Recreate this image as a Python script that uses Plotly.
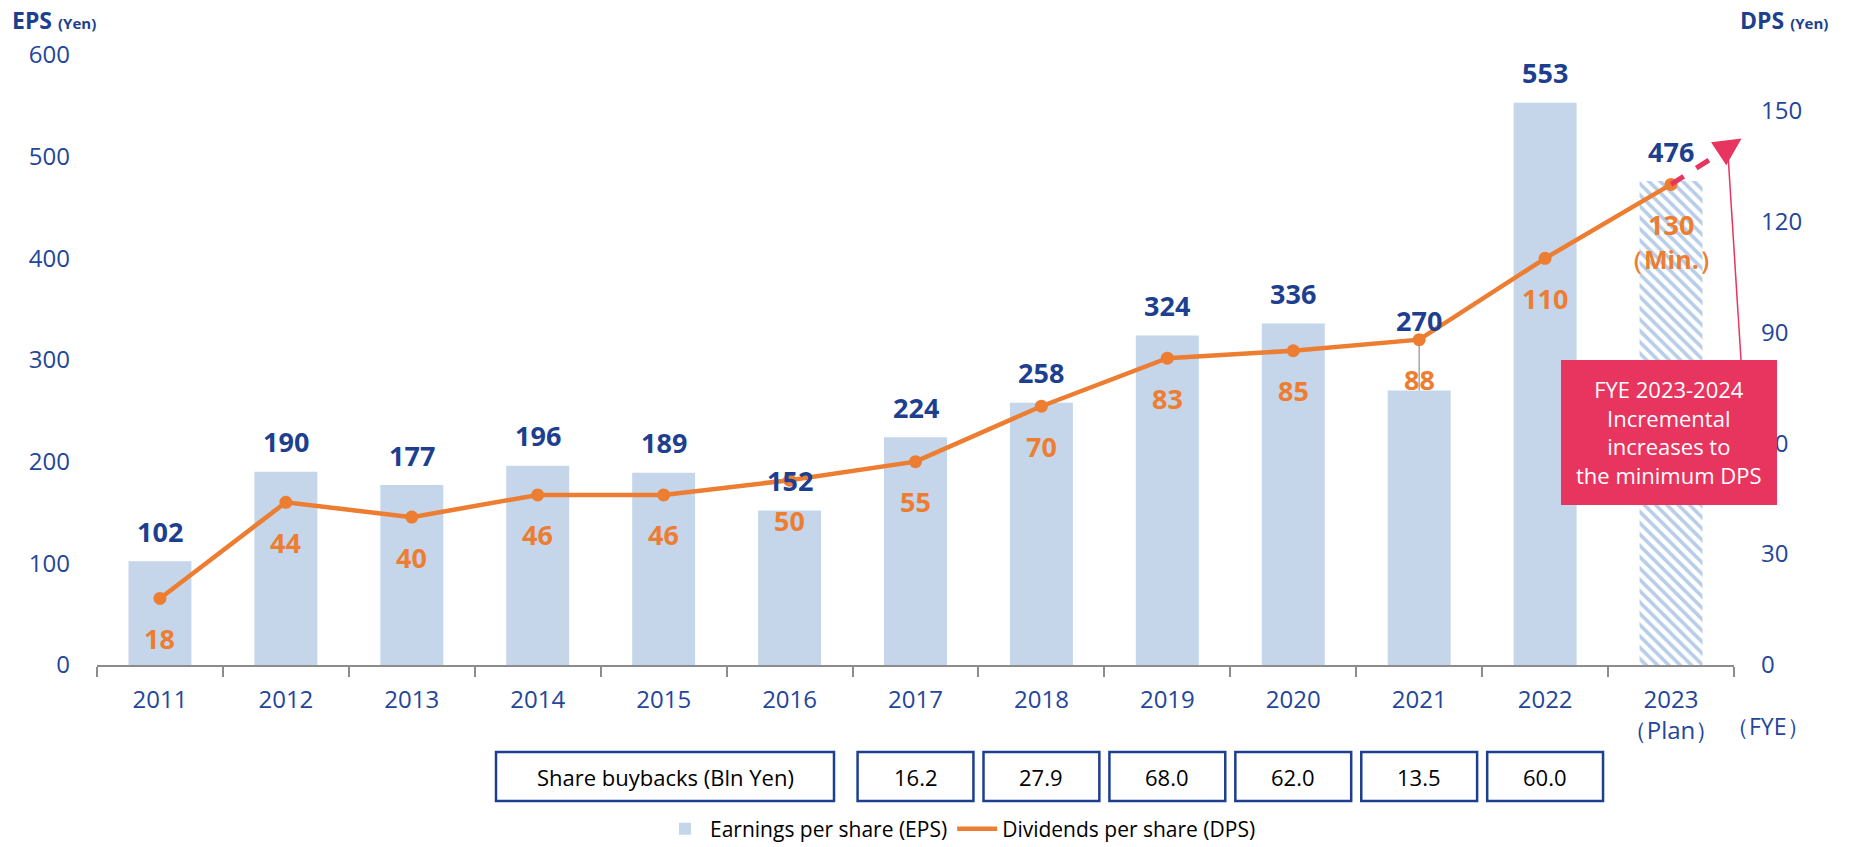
import plotly.graph_objects as go

# ---------------- data ----------------
years = ["2011", "2012", "2013", "2014", "2015", "2016", "2017", "2018",
         "2019", "2020", "2021", "2022", "2023<br>（Plan）"]
eps = [102, 190, 177, 196, 189, 152, 224, 258, 324, 336, 270, 553, 476]
dps = [18, 44, 40, 46, 46, 50, 55, 70, 83, 85, 88, 110, 130]
buyback_years = ["2017", "2018", "2019", "2020", "2021", "2022"]
buybacks = [16.2, 27.9, 68.0, 62.0, 13.5, 60.0]
eps_ticks = [0, 100, 200, 300, 400, 500, 600]
dps_ticks = [0, 30, 60, 90, 120, 150]

# ---------------- style ----------------
FONT = "Open Sans"
TICK_BLUE = "#23469A"
NAVY = "#1E3F8F"
ORANGE = "#ED7D31"
BAR_BLUE = "#C5D5EA"
HATCH_BLUE = "#B7CDE8"
PINK = "#E8355F"
AXIS_GRAY = "#8C8C8C"

W, H = 1852, 847
ML, MR, MT, MB = 97, 118, 55, 182
PW, PH = W - ML - MR, H - MT - MB
N = len(years)
EPS_MAX, DPS_MAX = 600, 165


def xp(idx):
    """category index -> paper x"""
    return (idx + 0.5) / N


def y2p(v):
    return v / DPS_MAX


def pxx(px):
    return (px - ML) / PW


def pxy(py):
    return (MT + PH - py) / PH


def note(**kw):
    base = dict(showarrow=False, xanchor="center", yanchor="middle")
    base.update(kw)
    return base


fig = go.Figure()

plan_idx = N - 1
bar_colors = [BAR_BLUE] * (N - 1) + [HATCH_BLUE]
patterns = [""] * (N - 1) + ["\\"]

fig.add_trace(go.Bar(
    x=years, y=eps, name="Earnings per share (EPS)",
    marker=dict(color=bar_colors, line=dict(width=0),
                pattern=dict(shape=patterns, size=8, solidity=0.45,
                             fillmode="replace")),
    yaxis="y", hoverinfo="skip",
))

fig.add_trace(go.Scatter(
    x=years, y=dps, name="Dividends per share (DPS)", yaxis="y2",
    mode="lines+markers", showlegend=False,
    line=dict(color=ORANGE, width=4.5),
    marker=dict(color=ORANGE, size=13),
    hoverinfo="skip",
))
# legend-only entry (line symbol without marker)
fig.add_trace(go.Scatter(
    x=[None], y=[None], name="Dividends per share (DPS)", yaxis="y2",
    mode="lines", line=dict(color=ORANGE, width=4.5), hoverinfo="skip",
))

annotations = []
shapes = []

# EPS labels
for i, v in enumerate(eps):
    shift = 70 if years[i] == "2021" else 30
    annotations.append(note(
        x=i, y=v, xref="x", yref="y", text=f"<b>{v}</b>",
        yshift=shift, font=dict(family=FONT, size=27, color=NAVY)))

# DPS labels
for i, v in enumerate(dps):
    annotations.append(note(
        x=i, y=v, xref="x", yref="y2", text=f"<b>{v}</b>",
        yshift=-40, font=dict(family=FONT, size=27, color=ORANGE)))
annotations.append(note(
    x=plan_idx, y=dps[plan_idx], xref="x", yref="y2", text="<b>（Min.）</b>",
    yshift=-75, font=dict(family=FONT, size=25, color=ORANGE)))

# leader line for 2021 EPS label
i21 = years.index("2021")
shapes.append(dict(type="line", xref="x", yref="y2", x0=i21, x1=i21,
                   y0=eps[i21] * DPS_MAX / EPS_MAX, y1=dps[i21],
                   line=dict(color="#A6A6A6", width=1.5), layer="below"))

# dashed arrow from 2023 DPS point
tip_x, tip_y = 12.56, 142.4
shapes.append(dict(type="line", xref="paper", yref="paper",
                   x0=xp(plan_idx), y0=y2p(dps[plan_idx]),
                   x1=xp(12.43), y1=y2p(139.4),
                   line=dict(color=PINK, width=5, dash="dash")))
annotations.append(dict(x=xp(tip_x), y=y2p(tip_y), xref="paper", yref="paper",
                        ax=-18, ay=12, axref="pixel", ayref="pixel",
                        showarrow=True, arrowhead=2, arrowsize=1.1, arrowwidth=5,
                        arrowcolor=PINK, text=""))

# callout box with pointer
shapes.append(dict(type="line", xref="paper", yref="paper",
                   x0=xp(12.45), y0=y2p(139.5), x1=pxx(1741), y1=pxy(360),
                   line=dict(color=PINK, width=1.5)))
shapes.append(dict(type="rect", xref="paper", yref="paper",
                   x0=pxx(1561), x1=pxx(1777), y0=pxy(505), y1=pxy(360),
                   fillcolor=PINK, line=dict(width=0), layer="above"))
annotations.append(note(
    x=pxx(1669), y=pxy(432), xref="paper", yref="paper",
    text="FYE 2023-2024<br>Incremental<br>increases to<br>the minimum DPS",
    font=dict(family=FONT, size=22, color="white"), align="center"))

# axis titles
annotations.append(note(
    x=pxx(10), y=pxy(20), xref="paper", yref="paper", xanchor="left",
    text="<b>EPS</b> <b><span style='font-size:15px'>(Yen)</span></b>",
    font=dict(family=FONT, size=23, color=NAVY)))
annotations.append(note(
    x=pxx(1830), y=pxy(20), xref="paper", yref="paper", xanchor="right",
    text="<b>DPS</b> <b><span style='font-size:15px'>(Yen)</span></b>",
    font=dict(family=FONT, size=23, color=NAVY)))
annotations.append(note(
    x=pxx(1768), y=pxy(726), xref="paper", yref="paper",
    text="（FYE）", font=dict(family=FONT, size=23, color=TICK_BLUE)))

# share buyback table
BOX_TOP, BOX_BOT = 752, 801
shapes.append(dict(type="rect", xref="paper", yref="paper",
                   x0=pxx(496), x1=pxx(834), y0=pxy(BOX_BOT), y1=pxy(BOX_TOP),
                   line=dict(color=NAVY, width=2.5), fillcolor="white"))
annotations.append(note(x=pxx(665), y=pxy((BOX_TOP + BOX_BOT) / 2), xref="paper",
                        yref="paper", text="Share buybacks (Bln Yen)",
                        font=dict(family=FONT, size=22, color="black")))
for yr, v in zip(buyback_years, buybacks):
    i = years.index(yr)
    shapes.append(dict(type="rect", xref="paper", yref="paper",
                       x0=xp(i - 0.46), x1=xp(i + 0.46),
                       y0=pxy(BOX_BOT), y1=pxy(BOX_TOP),
                       line=dict(color=NAVY, width=2.5), fillcolor="white"))
    annotations.append(note(x=xp(i), y=pxy((BOX_TOP + BOX_BOT) / 2), xref="paper",
                            yref="paper", text=f"{v:.1f}",
                            font=dict(family=FONT, size=22, color="black")))

fig.update_layout(
    width=W, height=H, autosize=False,
    margin=dict(l=ML, r=MR, t=MT, b=MB, pad=0, autoexpand=False),
    paper_bgcolor="white", plot_bgcolor="white",
    font=dict(family=FONT, color=TICK_BLUE),
    bargap=0.5,
    showlegend=True,
    legend=dict(orientation="h", x=0.5275, xanchor="center", y=pxy(829),
                yanchor="middle", font=dict(family=FONT, size=21, color="black"),
                bgcolor="rgba(0,0,0,0)", itemwidth=40, tracegroupgap=0),
    xaxis=dict(type="category", range=[-0.5, N - 0.5], showgrid=False,
               showline=True, linecolor=AXIS_GRAY, linewidth=2,
               ticks="outside", tickson="boundaries", ticklen=10,
               tickcolor=AXIS_GRAY, tickwidth=2, ticklabelstandoff=12,
               tickfont=dict(family=FONT, size=24, color=TICK_BLUE),
               zeroline=False),
    yaxis=dict(range=[0, EPS_MAX], tickvals=eps_ticks, showgrid=False,
               showline=False, zeroline=False, ticks="",
               ticklabelstandoff=26,
               tickfont=dict(family=FONT, size=24, color=TICK_BLUE)),
    yaxis2=dict(range=[0, DPS_MAX], tickvals=dps_ticks, overlaying="y",
                side="right", showgrid=False, showline=False, zeroline=False,
                ticks="", ticklabelstandoff=26,
                tickfont=dict(family=FONT, size=24, color=TICK_BLUE)),
    annotations=annotations,
    shapes=shapes,
)

fig.write_html("out.html", config={"displayModeBar": False},
               post_script="document.body.style.margin='0';")
